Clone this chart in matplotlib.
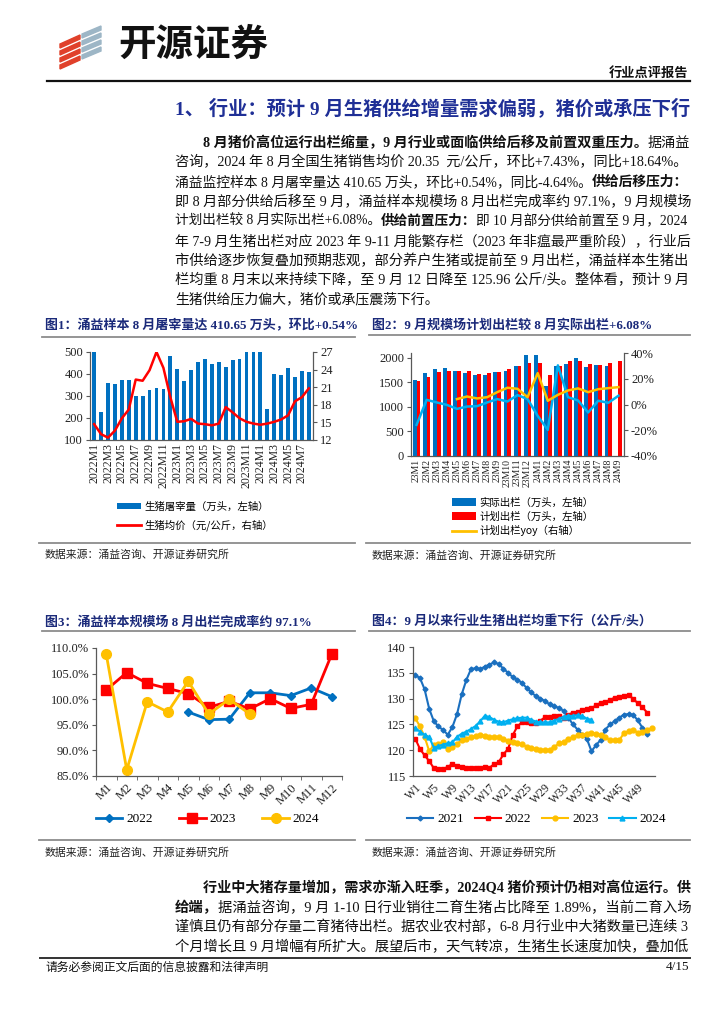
import matplotlib
matplotlib.use('Agg')
import matplotlib.pyplot as plt
from matplotlib.patches import Polygon, Patch
from matplotlib.lines import Line2D
import numpy as np

W, H = 724, 1024
SERIF = ['Liberation Serif', 'Noto Sans CJK SC']
CJK = ['Noto Sans CJK SC', 'DejaVu Sans']
plt.rcParams['font.family'] = SERIF
plt.rcParams['axes.unicode_minus'] = False

BLUE = '#0070C0'
RED = '#FF0000'
GOLD = '#FFC000'
CYAN = '#00B0F0'
NAVY = '#1B2A7A'
GREY = '#595959'

# ---------------- chart 1 data ----------------
c1_labels = [f'{y}M{m}' for y in (2022, 2023) for m in range(1, 13)] + [f'2024M{m}' for m in range(1, 9)]
c1_slaughter = [505, 229, 358, 355, 372, 372, 299, 299, 327, 336, 331, 482,
                424, 368, 418, 456, 468, 445, 456, 433, 463, 466, 510, 512,
                508, 240, 401, 397, 428, 387, 413, 411]
c1_price = [14.7, 13.0, 12.4, 13.6, 15.7, 17.2, 22.3, 22.1, 23.9, 27.0, 24.3, 19.3,
            15.1, 15.2, 15.6, 14.8, 14.7, 14.5, 14.8, 17.6, 16.7, 15.7, 15.1, 14.8,
            14.6, 14.8, 15.1, 15.5, 16.2, 18.6, 19.3, 20.8]

# ---------------- chart 2 data ----------------
c2_labels = [f'23M{m}' for m in range(1, 13)] + [f'24M{m}' for m in range(1, 10)]
c2_actual = [1554, 1689, 1764, 1784, 1743, 1689, 1655, 1649, 1716, 1723, 1831, 2061,
             2061, 1419, 1831, 1878, 2000, 1811, 1865, 1831]
c2_plan = [1527, 1615, 1716, 1743, 1737, 1723, 1676, 1689, 1716, 1764, 1845, 1899,
           1892, 1655, 1845, 1932, 1946, 1878, 1865, 1899, 1945]
c2_plan_yoy = [4.2, 6.2, 4.7, 5.7, 9.6, 13.0, 12.2, 5.7, 24.4, 2.9, 7.5, 10.9,
               12.5, 9.6, 11.9, 12.7, 13.5]          # from 23M5
c2_blue_line = [-15.8, 3.6, 1.6, -0.3, -3.4, -1.6, -1.3, 1.6, 4.2, 2.3, 7.3, 4.2,
                -8.8, -19.7, 30.4, 5.7, 3.1, -6.2, 2.9, 1.3, 6.8]

# ---------------- chart 3 data ----------------
c3_labels = [f'M{m}' for m in range(1, 13)]
c3_2022 = [97.5, 96.0, 96.1, 101.25, 101.25, 100.7, 102.2, 100.5]   # M5-M12
c3_2023 = [101.8, 105.2, 103.1, 102.1, 101.1, 98.4, 99.6, 98.1, 100.1, 98.2, 99.0, 108.8]
c3_2024 = [108.8, 86.2, 99.5, 97.5, 103.5, 97.1, 100.0, 97.1]

# ---------------- chart 4 data ----------------
c4_2021 = [134.5, 134.0, 131.8, 128.0, 125.6, 124.6, 123.9, 123.0, 124.5, 127.0,
           130.8, 133.6, 135.7, 135.9, 135.7, 136.2, 136.6, 137.0, 136.7, 135.8,
           135.0, 134.2, 133.7, 133.0, 132.1, 131.2, 130.5, 130.0, 129.5, 128.9,
           128.5, 128.2, 127.6, 126.3, 125.0, 124.0, 123.0, 122.2, 119.8, 121.0,
           122.0, 124.0, 125.0, 125.6, 126.3, 126.9, 127.0, 126.8, 125.8, 124.3, 123.2]
c4_2022 = [122.2, 120.25, 119.0, 117.9, 116.5, 116.3, 116.3, 116.8, 117.3, 117.0,
           116.75, 116.6, 116.6, 116.5, 116.6, 116.7, 116.6, 117.3, 117.7, 119.2,
           120.25, 122.9, 124.6, 125.4, 125.4, 125.2, 125.2, 125.75, 126.4, 126.5,
           126.6, 126.6, 126.2, 126.85, 127.3, 127.4, 127.7, 128.0, 128.15, 128.7,
           129.2, 129.4, 129.7, 130.2, 130.3, 130.5, 130.7, 129.95, 129.1, 128.3, 127.3]
c4_2023 = [126.2, 124.6, 122.6, 119.8, 121.0, 121.2, 121.5, 120.25, 120.7, 121.2,
           122.0, 122.25, 122.5, 122.8, 122.9, 122.8, 122.6, 122.6, 122.6, 122.25,
           121.8, 121.5, 121.35, 121.15, 120.7, 120.4, 120.25, 120.1, 120.05, 120.1,
           120.6, 121.35, 121.5, 122.25, 122.5, 122.9, 123.0, 123.2, 123.35, 123.15,
           122.95, 122.6, 121.9, 121.95, 121.95, 123.3, 123.7, 124.0, 123.35, 123.6,
           123.9, 124.3]
c4_2024 = [124.3, 123.6, 123.0, 122.5, 120.5, 120.8, 121.1, 121.35, 121.5, 122.6,
           123.2, 123.6, 124.1, 124.7, 125.6, 126.7, 126.4, 125.9, 125.5, 125.4,
           125.75, 126.0, 126.2, 126.3, 126.3, 125.9, 125.55, 125.4, 125.4, 125.4,
           125.75, 126.1, 126.5, 126.65, 126.65, 126.8, 126.65, 126.1, 125.9]
c4_ticklabels = ['W1', 'W5', 'W9', 'W13', 'W17', 'W21', 'W25', 'W29', 'W33',
                 'W37', 'W41', 'W45', 'W49']

# ---------------- text ----------------
section_title = '1、 行业：预计 9 月生猪供给增量需求偏弱，猪价或承压下行'
para1 = [
    [('8 月猪价高位运行出栏缩量，9 月行业或面临供给后移及前置双重压力。', True), ('据涌益', False)],
    [('咨询，2024 年 8 月全国生猪销售均价 20.35  元/公斤，环比+7.43%，同比+18.64%。', False)],
    [('涌益监控样本 8 月屠宰量达 410.65 万头，环比+0.54%，同比-4.64%。', False), ('供给后移压力：', True)],
    [('即 8 月部分供给后移至 9 月，涌益样本规模场 8 月出栏完成率约 97.1%，9 月规模场', False)],
    [('计划出栏较 8 月实际出栏+6.08%。', False), ('供给前置压力：', True), ('即 10 月部分供给前置至 9 月，2024', False)],
    [('年 7-9 月生猪出栏对应 2023 年 9-11 月能繁存栏（2023 年非瘟最严重阶段），行业后', False)],
    [('市供给逐步恢复叠加预期悲观，部分养户生猪或提前至 9 月出栏，涌益样本生猪出', False)],
    [('栏均重 8 月末以来持续下降，至 9 月 12 日降至 125.96 公斤/头。整体看，预计 9 月', False)],
    [('生猪供给压力偏大，猪价或承压震荡下行。', False)],
]
para2 = [
    [('行业中大猪存量增加，需求亦渐入旺季，2024Q4 猪价预计仍相对高位运行。供', True)],
    [('给端，', True), ('据涌益咨询，9 月 1-10 日行业销往二育生猪占比降至 1.89%，当前二育入场', False)],
    [('谨慎且仍有部分存量二育猪待出栏。据农业农村部，6-8 月行业中大猪数量已连续 3', False)],
    [('个月增长且 9 月增幅有所扩大。展望后市，天气转凉，生猪生长速度加快，叠加低', False)],
]
source_txt = '数据来源：涌益咨询、开源证券研究所'

fig = plt.figure(figsize=(W / 100, H / 100), dpi=100)
fig.patch.set_facecolor('white')
renderer = fig.canvas.get_renderer()


def fx(x):
    return x / W


def fy(y):
    return 1 - y / H


def px_axes(x0, y0, x1, y1):
    return fig.add_axes([fx(x0), fy(y1), (x1 - x0) / W, (y1 - y0) / H])


def hline(x0, x1, y, color, lw):
    fig.add_artist(Line2D([fx(x0), fx(x1)], [fy(y), fy(y)], transform=fig.transFigure,
                          color=color, lw=lw))


def rich_line(x, y, segments, size, target=None, color='#111111'):
    # one text per segment; optional fit of the whole line to a target width
    texts = [fig.text(0, fy(y), txt, fontsize=size, color=color, family=SERIF,
                      fontweight='bold' if bold else 'normal', ha='left', va='center')
             for txt, bold in segments]
    if target:
        total = sum(t.get_window_extent(renderer=renderer).width for t in texts)
        k = min(max(target / total, 0.9), 1.12)
        for t in texts:
            t.set_fontsize(size * k)
    for t in texts:
        t.set_x(fx(x))
        x += t.get_window_extent(renderer=renderer).width


# ---------------- header ----------------
for k in range(4):
    fig.add_artist(Polygon([(fx(60), fy(44 + 7 * k)), (fx(80), fy(35 + 7 * k)),
                            (fx(80), fy(39 + 7 * k)), (fx(60), fy(48 + 7 * k))],
                           closed=True, transform=fig.transFigure, color='#E0402A'))
    fig.add_artist(Polygon([(fx(82), fy(34 + 7 * k)), (fx(101), fy(26 + 7 * k)),
                            (fx(101), fy(30 + 7 * k)), (fx(82), fy(38 + 7 * k))],
                           closed=True, transform=fig.transFigure, color='#9DB6C6'))
fig.text(fx(118), fy(44), '开源证券', fontsize=27, fontweight='bold', family=CJK,
         ha='left', va='center', color='#111111')
fig.text(fx(688), fy(73), '行业点评报告', fontsize=9.5, fontweight='bold', family=CJK,
         ha='right', va='center', color='#111111')
hline(47, 690, 80.5, '#111111', 1.6)

rich_line(175, 108, [(section_title, True)], 13, target=513, color='#1F2F96')

LINE = 19.6
for i, segs in enumerate(para1):
    x0 = 203 if i == 0 else 175
    tgt = None if i == len(para1) - 1 else 690 - x0
    rich_line(x0, 143 + LINE * i, segs, 10, target=tgt)

for i, segs in enumerate(para2):
    x0 = 203 if i == 0 else 175
    rich_line(x0, 888 + LINE * i, segs, 10, target=690 - x0)

hline(40, 690, 958, '#333333', 1.4)
fig.text(fx(45), fy(967), '请务必参阅正文后面的信息披露和法律声明', fontsize=8.5, family=CJK,
         ha='left', va='center', color='#111111')
fig.text(fx(689), fy(967), '4/15', fontsize=9.5, family=SERIF, ha='right', va='center',
         color='#111111')


def chart_frame(x0, x1, ytitle, yline, title, ysrc_line, ysrc):
    fig.text(fx(x0 + 3), fy(ytitle), title, fontsize=9.35, fontweight='bold', family=SERIF,
             color=NAVY, ha='left', va='center')
    hline(x0, x1, yline, '#8C8C8C', 1.3)
    hline(x0 - 3, x1, ysrc_line, '#8C8C8C', 1.3)
    fig.text(fx(x0 + 3), fy(ysrc), source_txt, fontsize=7.8, family=CJK, color='#222222',
             ha='left', va='center')


def style(ax, sides, size=9):
    for s in ['top', 'right', 'left', 'bottom']:
        ax.spines[s].set_visible(s in sides)
        ax.spines[s].set_color(GREY)
        ax.spines[s].set_linewidth(0.9)
    ax.tick_params(labelsize=size, length=3, width=0.8, color=GREY, labelcolor='#222222',
                   pad=2)
    ax.set_facecolor('none')


chart_frame(42, 355, 325, 337, '图1：涌益样本 8 月屠宰量达 410.65 万头，环比+0.54%', 543, 555)
chart_frame(369, 690, 325, 335, '图2：9 月规模场计划出栏较 8 月实际出栏+6.08%', 543, 556)
chart_frame(42, 355, 622, 631, '图3：涌益样本规模场 8 月出栏完成率约 97.1%', 840, 853)
chart_frame(369, 690, 622, 631, '图4：9 月以来行业生猪出栏均重下行（公斤/头）', 840, 853)

# ---------------- chart 1 ----------------
ax1 = px_axes(90, 352, 313, 440)
x1 = np.arange(len(c1_labels))
ax1.bar(x1, c1_slaughter, width=0.55, color=BLUE)
ax1.set_ylim(100, 500)
ax1.set_yticks(range(100, 501, 100))
ax1.set_xlim(-0.6, len(x1) - 0.4)
ax1.set_xticks(x1[::2])
ax1.set_xticklabels(c1_labels[::2], rotation=90)
style(ax1, ['left', 'bottom'])
ax1.tick_params(axis='x', length=0, labelsize=8.5)
ax1b = ax1.twinx()
ax1b.plot(x1, c1_price, color=RED, lw=1.8)
ax1b.set_ylim(12, 27)
ax1b.set_yticks(range(12, 28, 3))
style(ax1b, ['right'])
h1 = [Patch(facecolor=BLUE), Line2D([], [], color=RED, lw=2)]
fig.legend(h1, ['生猪屠宰量（万头，左轴）', '生猪均价（元/公斤，右轴）'],
           loc='center left', bbox_to_anchor=(fx(117), fy(516.5)),
           frameon=False, prop={'family': CJK, 'size': 7.5}, handlelength=2.3,
           handleheight=0.6, handletextpad=0.3, labelspacing=0.75, borderpad=0,
           borderaxespad=0)

# ---------------- chart 2 ----------------
ax2 = px_axes(411, 353, 624, 456)
x2 = np.arange(len(c2_labels))
ax2.bar(x2[:len(c2_actual)] - 0.19, c2_actual, width=0.38, color=BLUE)
ax2.bar(x2 + 0.19, c2_plan, width=0.38, color=RED)
ax2.set_ylim(0, 2100)
ax2.set_yticks(range(0, 2001, 500))
ax2.set_xlim(-0.55, len(x2) - 0.45)
ax2.set_xticks(x2)
ax2.set_xticklabels(c2_labels, rotation=90)
style(ax2, ['left', 'bottom'])
ax2.tick_params(axis='x', length=0, labelsize=7)
ax2b = ax2.twinx()
ax2b.plot(x2, c2_blue_line, color=CYAN, lw=1.8)
ax2b.plot(x2[4:], c2_plan_yoy, color=GOLD, lw=1.8)
ax2b.set_ylim(-40, 40)
ax2b.set_yticks(range(-40, 41, 20))
ax2b.set_yticklabels([f'{v}%' for v in range(-40, 41, 20)])
style(ax2b, ['right'])
h2 = [Patch(facecolor=BLUE), Patch(facecolor=RED), Line2D([], [], color=GOLD, lw=2)]
fig.legend(h2, ['实际出栏（万头，左轴）', '计划出栏（万头，左轴）', '计划出栏yoy（右轴）'],
           loc='center left', bbox_to_anchor=(fx(452), fy(517)),
           frameon=False, prop={'family': CJK, 'size': 7.5}, handlelength=2.3,
           handleheight=0.7, handletextpad=0.3, labelspacing=0.35, borderpad=0,
           borderaxespad=0)

# ---------------- chart 3 ----------------
ax3 = px_axes(96, 648, 342, 776)
x3 = np.arange(len(c3_labels))
l22, = ax3.plot(x3[4:], c3_2022, color=BLUE, lw=2, marker='D', ms=4)
l23, = ax3.plot(x3, c3_2023, color=RED, lw=2, marker='s', ms=7)
l24, = ax3.plot(x3[:len(c3_2024)], c3_2024, color=GOLD, lw=2, marker='o', ms=7)
ax3.set_ylim(85, 110)
ax3.set_yticks(range(85, 111, 5))
ax3.set_yticklabels([f'{v:.1f}%' for v in range(85, 111, 5)])
ax3.set_xlim(-0.5, len(x3) - 0.5)
ax3.set_xticks(x3)
ax3.set_xticklabels(c3_labels, rotation=45, ha='right', rotation_mode='anchor')
ax3.set_xticks(np.arange(-0.5, len(x3)), minor=True)
style(ax3, ['left', 'bottom'])
ax3.tick_params(axis='x', which='major', length=0, pad=4)
ax3.tick_params(axis='x', which='minor', length=3, color=GREY)
for ln in (l22, l23, l24):
    ln.set_clip_on(False)
fig.legend([l22, l23, l24], ['2022', '2023', '2024'], loc='center left',
           bbox_to_anchor=(fx(96), fy(819)), ncol=3, frameon=False,
           prop={'family': SERIF, 'size': 9.5}, handlelength=2.0, handletextpad=0.3,
           columnspacing=2.0, borderpad=0, borderaxespad=0)

# ---------------- chart 4 ----------------
ax4 = px_axes(413, 647, 655, 776)
l21, = ax4.plot(np.arange(len(c4_2021)), c4_2021, color='#1A6FBF', lw=1.5, marker='D', ms=2.5)
l22b, = ax4.plot(np.arange(len(c4_2022)), c4_2022, color=RED, lw=1.5, marker='s', ms=3.5)
l23b, = ax4.plot(np.arange(len(c4_2023)), c4_2023, color=GOLD, lw=1.5, marker='o', ms=3.5)
l24b, = ax4.plot(np.arange(len(c4_2024)), c4_2024, color=CYAN, lw=1.5, marker='^', ms=3.5)
ax4.set_ylim(115, 140)
ax4.set_yticks(range(115, 141, 5))
ax4.set_xlim(-0.5, 51.7)
ax4.set_xticks(np.arange(0, 52, 4))
ax4.set_xticklabels(c4_ticklabels, rotation=45, ha='right', rotation_mode='anchor')
style(ax4, ['left', 'bottom'])
ax4.tick_params(axis='x', length=0, pad=4, labelsize=8.5)
fig.legend([l21, l22b, l23b, l24b], ['2021', '2022', '2023', '2024'], loc='center left',
           bbox_to_anchor=(fx(407), fy(819)), ncol=4, frameon=False,
           prop={'family': SERIF, 'size': 9.5}, handlelength=2.0, handletextpad=0.3,
           columnspacing=0.8, borderpad=0, borderaxespad=0)

fig.savefig('out.png', dpi=100, facecolor='white')
